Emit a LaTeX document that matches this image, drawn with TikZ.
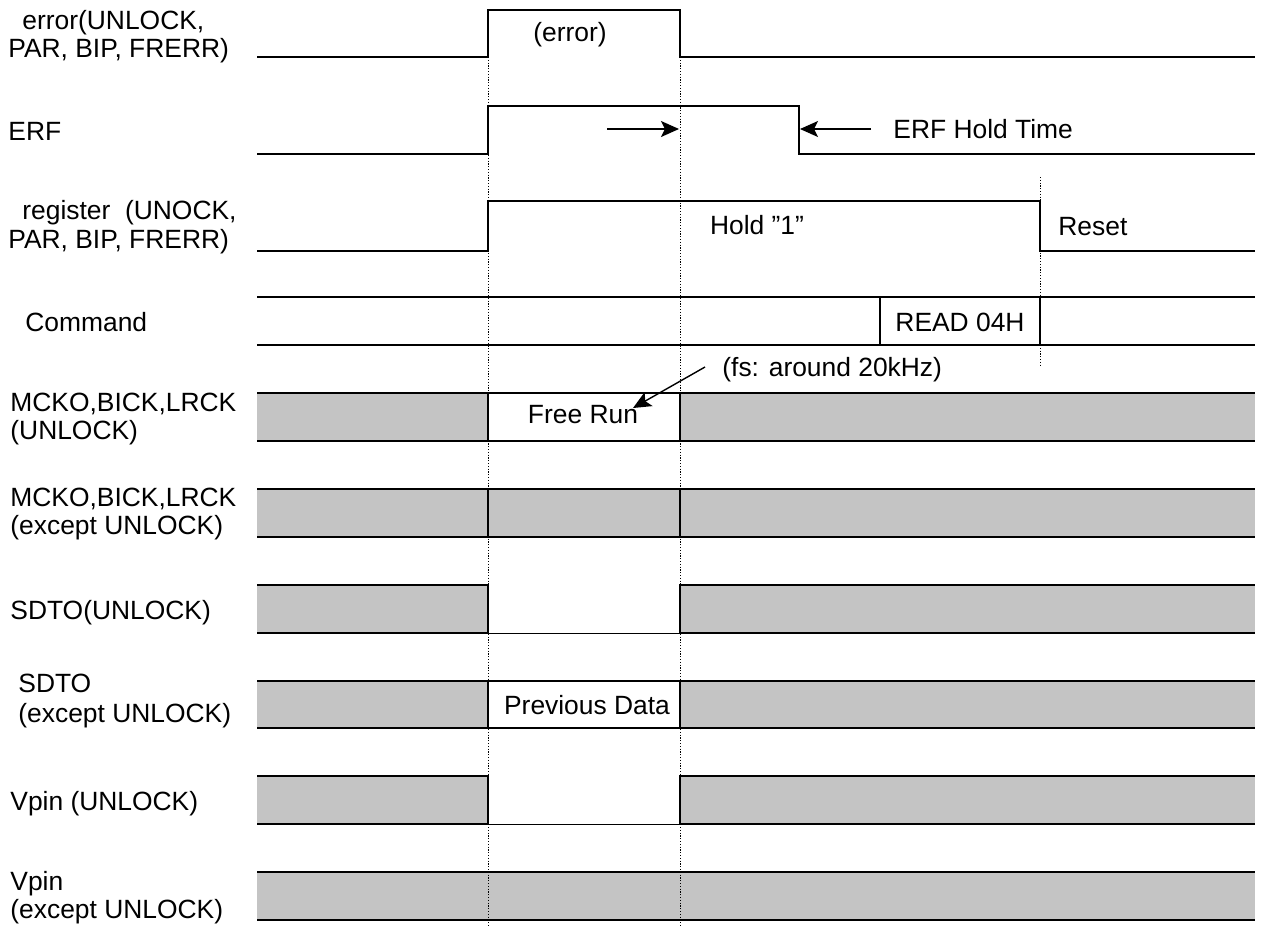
\documentclass[tikz,border=0pt]{standalone}
\usepackage{fontspec}
\setmainfont{Liberation Sans}
\usetikzlibrary{arrows.meta}
\begin{document}
\begin{tikzpicture}[x=0.5pt,y=-0.5pt,
  sig/.style={line width=1pt, line join=miter},
  thinsig/.style={line width=0.5pt},
  band/.style={fill=black!23, draw=none},
  guide/.style={line width=0.5pt, dash pattern=on 0.6pt off 0.8pt},
  lbl/.style={anchor=base west, inner sep=0pt, font=\fontsize{13.2}{15}\selectfont},
  txt/.style={inner sep=0pt, font=\fontsize{13.2}{15}\selectfont},
  arr/.style={-{Stealth[length=9pt,width=8pt,inset=2pt]}, line width=0.7pt}
]
\useasboundingbox (0,0) rectangle (1263,927);

% ---------- shaded bands ----------
\fill[band] (257,393) rectangle (488,441);
\fill[band] (680,393) rectangle (1255,441);
\fill[band] (257,489) rectangle (1255,537);
\fill[band] (257,585) rectangle (488,633);
\fill[band] (680,585) rectangle (1255,633);
\fill[band] (257,681) rectangle (488,728);
\fill[band] (680,681) rectangle (1255,728);
\fill[band] (257,776) rectangle (488,824);
\fill[band] (680,776) rectangle (1255,824);
\fill[band] (257,872) rectangle (1255,920);

% ---------- guide lines ----------
\draw[guide] (488,57) -- (488,927);
\draw[guide] (680,57) -- (680,927);
\draw[guide] (1040,177) -- (1040,366);

% ---------- error ----------
\draw[sig] (257,57) -- (488,57) -- (488,10) -- (680,10) -- (680,57) -- (1255,57);
\node[txt] (terr) at (570,35) {(error)};

% ---------- ERF ----------
\draw[sig] (257,154) -- (488,154) -- (488,106) -- (799,106) -- (799,154) -- (1255,154);
\coordinate (a1s) at (607,129);
\coordinate (a1e) at (679,129);
\coordinate (a2s) at (871,129);
\coordinate (a2e) at (800,129);
\draw[arr] (a1s) -- (a1e);
\draw[arr] (a2s) -- (a2e);
\node[txt, anchor=west] (thold) at (893,129) {ERF Hold Time};

% ---------- register ----------
\draw[sig] (257,251) -- (488,251) -- (488,201) -- (1040,201) -- (1040,251) -- (1255,251);
\node[txt] (th1) at (757,225) {Hold ”1”};
\node[txt, anchor=west] (treset) at (1058,227) {Reset};

% ---------- Command ----------
\draw[sig] (257,297) -- (1255,297);
\draw[sig] (257,345) -- (1255,345);
\draw[sig] (880,297) -- (880,345);
\draw[sig] (1040,297) -- (1040,345);
\node[txt] (tread) at (960,322) {READ 04H};

% ---------- MCKO (UNLOCK) ----------
\draw[sig] (257,393) -- (1255,393);
\draw[sig] (257,441) -- (1255,441);
\draw[sig] (488,393) -- (488,441);
\draw[sig] (680,393) -- (680,441);
\node[txt] (tfree) at (583,415) {Free Run};
\node[txt, anchor=west] (tfs) at (722,370) {(fs: around 20kHz)};
\coordinate (a3s) at (705,367);
\coordinate (a3e) at (633,408);
\draw[arr] (a3s) -- (a3e);

% ---------- MCKO (except UNLOCK) ----------
\draw[sig] (257,489) -- (1255,489);
\draw[sig] (257,537) -- (1255,537);
\draw[sig] (488,489) -- (488,537);
\draw[sig] (680,489) -- (680,537);

% ---------- SDTO (UNLOCK) ----------
\draw[sig] (257,585) -- (488,585) -- (488,633);
\draw[sig] (680,633) -- (680,585) -- (1255,585);
\draw[sig] (257,633) -- (488,633);
\draw[thinsig] (488,633) -- (680,633);
\draw[sig] (680,633) -- (1255,633);

% ---------- SDTO (except UNLOCK) ----------
\draw[sig] (257,681) -- (1255,681);
\draw[sig] (257,728) -- (1255,728);
\draw[sig] (488,681) -- (488,728);
\draw[sig] (680,681) -- (680,728);
\node[txt] (tprev) at (587,705) {Previous Data};

% ---------- Vpin (UNLOCK) ----------
\draw[sig] (257,776) -- (488,776) -- (488,824);
\draw[sig] (680,824) -- (680,776) -- (1255,776);
\draw[sig] (257,824) -- (488,824);
\draw[thinsig] (488,824) -- (680,824);
\draw[sig] (680,824) -- (1255,824);

% ---------- Vpin (except UNLOCK) ----------
\draw[sig] (257,872) -- (1255,872);
\draw[sig] (257,920) -- (1255,920);

% ---------- left labels ----------
\node[lbl] (l1a) at (22,29) {error(UNLOCK,};
\node[lbl] (l1b) at (8,57) {PAR, BIP, FRERR)};
\node[lbl] (l2) at (8,140) {ERF};
\node[lbl] (l3a) at (22,219) {register\ \ (UNOCK,};
\node[lbl] (l3b) at (8,248) {PAR, BIP, FRERR)};
\node[lbl] (l4) at (25,331) {Command};
\node[lbl] (l5a) at (10,411) {MCKO,BICK,LRCK};
\node[lbl] (l5b) at (10,439) {(UNLOCK)};
\node[lbl] (l6a) at (10,506) {MCKO,BICK,LRCK};
\node[lbl] (l6b) at (10,534) {(except UNLOCK)};
\node[lbl] (l7) at (10,619) {SDTO(UNLOCK)};
\node[lbl] (l8a) at (18,692) {SDTO};
\node[lbl] (l8b) at (18,722) {(except UNLOCK)};
\node[lbl] (l9) at (10,810) {Vpin (UNLOCK)};
\node[lbl] (l10a) at (10,890) {Vpin};
\node[lbl] (l10b) at (10,918) {(except UNLOCK)};
\end{tikzpicture}
\end{document}
